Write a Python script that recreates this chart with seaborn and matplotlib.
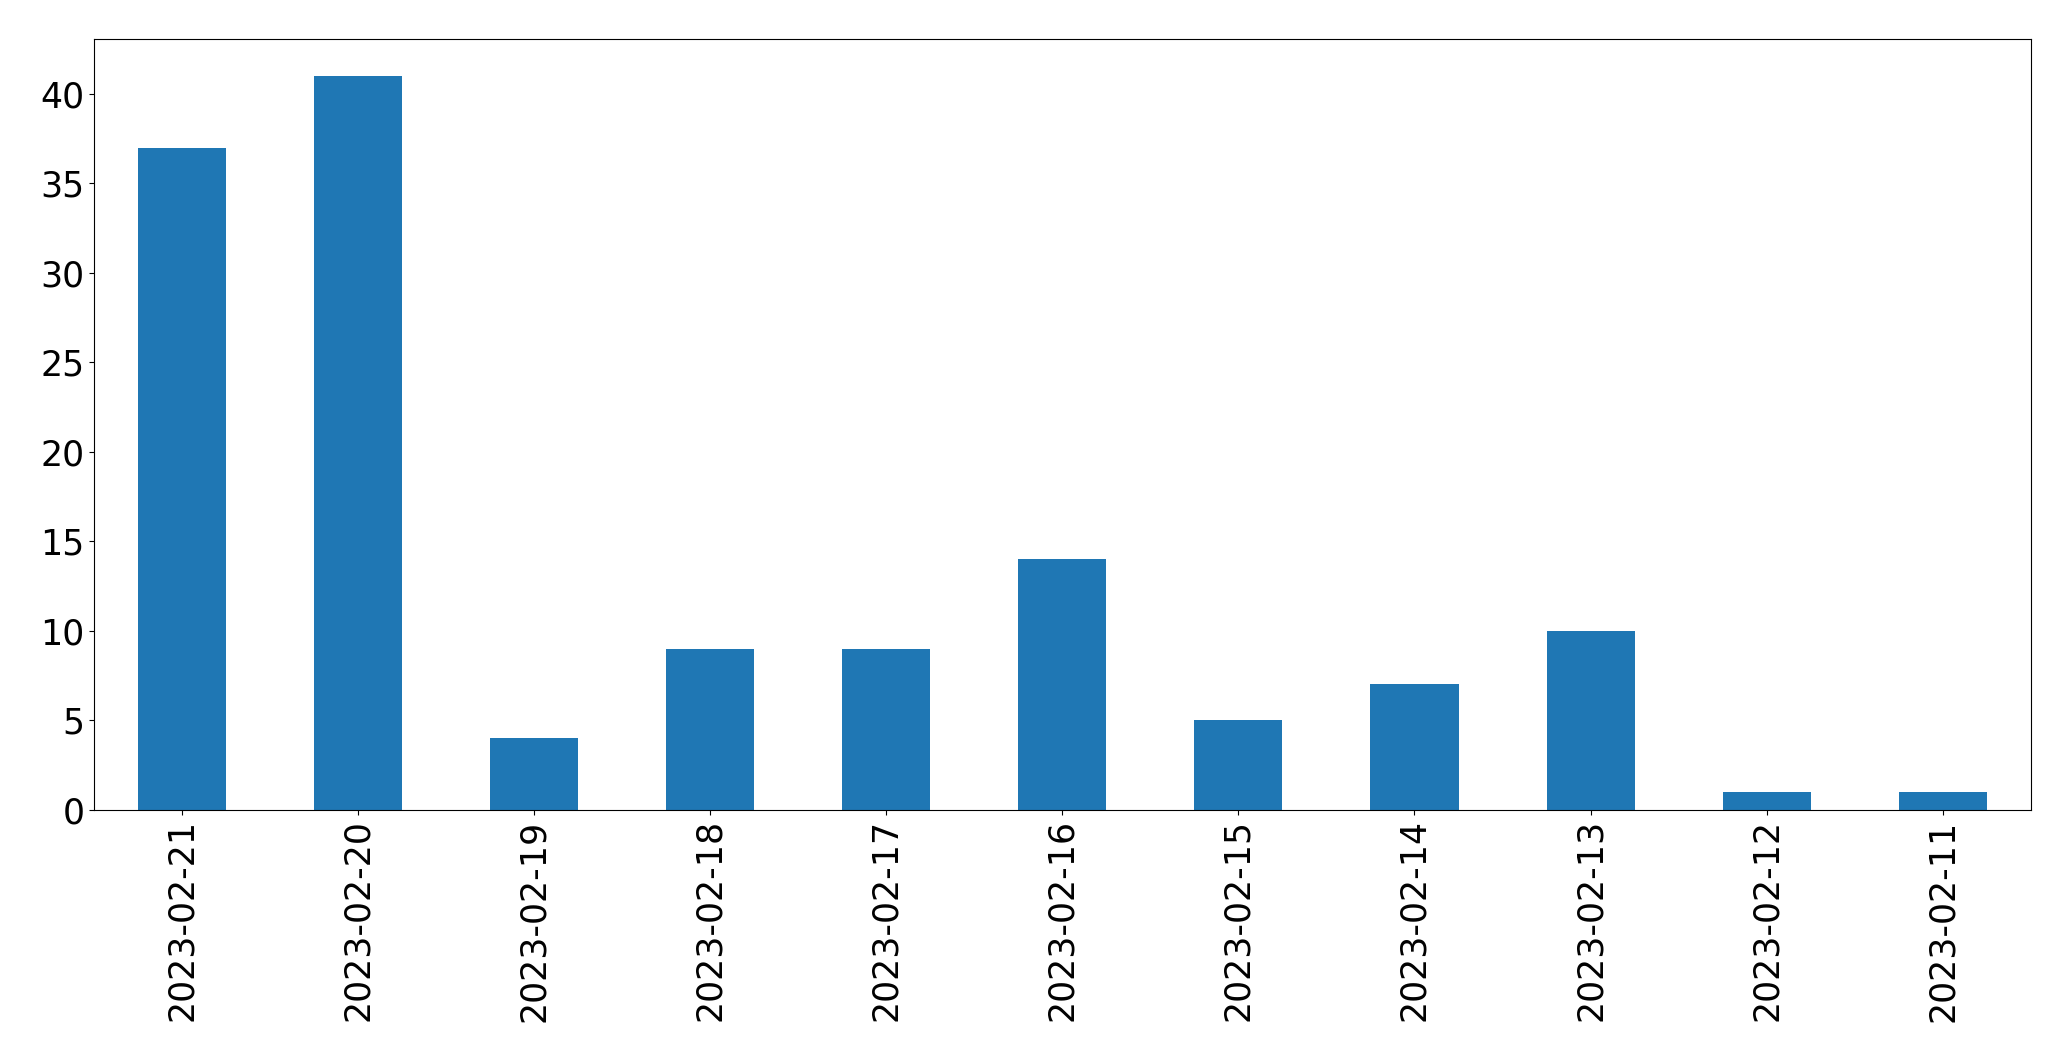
import numpy as np
import pandas as pd
import matplotlib
matplotlib.use('Agg')
import matplotlib.pyplot as plt
import seaborn as sns

dates = ['2023-02-21', '2023-02-20', '2023-02-19', '2023-02-18', '2023-02-17',
         '2023-02-16', '2023-02-15', '2023-02-14', '2023-02-13', '2023-02-12',
         '2023-02-11']
counts = [37, 41, 4, 9, 9, 14, 5, 7, 10, 1, 1]

df = pd.DataFrame({'date': dates, 'count': counts})

plt.rcParams['font.family'] = ['DejaVu Sans']
fig = plt.figure(figsize=(20.71, 10.61), dpi=100)
ax = fig.add_axes([0.0455, 0.237, 0.935, 0.726])

sns.barplot(data=df, x='date', y='count', color='#1f77b4', saturation=1,
            width=0.5, ax=ax, order=dates)

ax.set_xlim(-0.5, len(dates) - 0.5)
ax.set_ylim(0, max(counts) * 1.05)
ax.set_xlabel('')
ax.set_ylabel('')
ax.tick_params(axis='both', labelsize=25)
ax.tick_params(axis='x', rotation=90)

fig.savefig('out.png', dpi=100)
